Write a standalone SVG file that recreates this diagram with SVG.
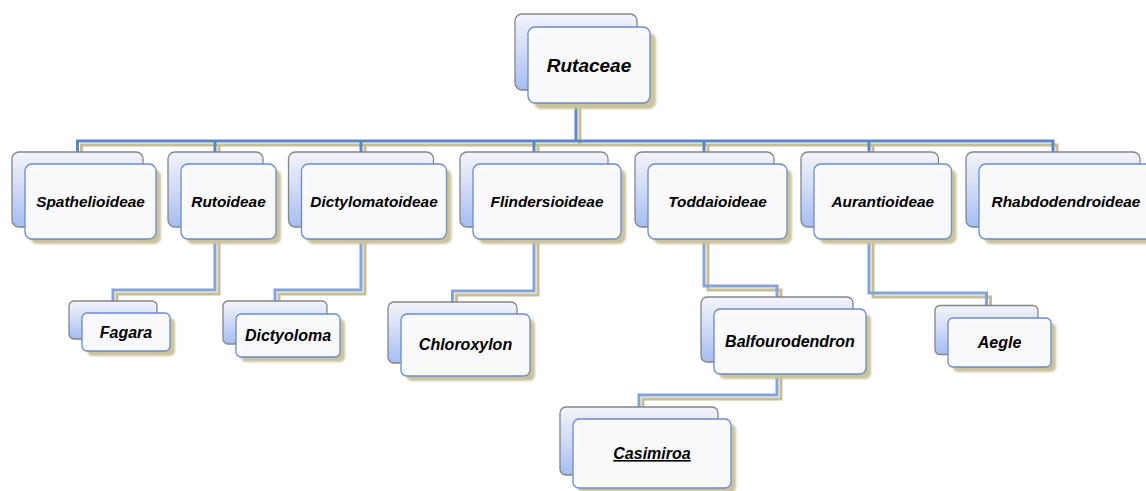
<svg xmlns="http://www.w3.org/2000/svg" xmlns:xlink="http://www.w3.org/1999/xlink" width="1146" height="491" viewBox="0 0 1146 491">
<defs>
<linearGradient id="backGrad" x1="0" y1="0" x2="0" y2="1">
<stop offset="0" stop-color="#f3f4fa"/>
<stop offset="0.45" stop-color="#d3ddf6"/>
<stop offset="1" stop-color="#a5bdf1"/>
</linearGradient>
<filter id="soft" x="-10%" y="-10%" width="120%" height="120%">
<feGaussianBlur stdDeviation="0.8"/>
</filter>
<path id="c0" d="M576,90 V141 M77.5,152 V141 H1053 V152 M215,141 V152 M361,141 V152 M534,141 V152 M704,141 V152 M869,141 V152"/>
<path id="c1" d="M215,227 V290 H113 V301"/>
<path id="c2" d="M361,227 V290 H275 V301"/>
<path id="c3" d="M534,227 V291 H452.5 V302"/>
<path id="c4" d="M704,227 V286 H777 V297"/>
<path id="c5" d="M777,362 V395 H639 V407"/>
<path id="c6" d="M869,227 V293 H986.5 V305"/>
</defs>
<style>
.back{fill:url(#backGrad);stroke:#858585;stroke-width:1.3}
.shadow{fill:#cbc39d;filter:url(#soft)}
.front{fill:#fafbfe;fill-opacity:0.97;stroke:#6a8ccb;stroke-width:1.3}
.t{font-family:"Liberation Sans",Arial,sans-serif;font-weight:bold;font-style:italic;fill:#000;text-anchor:middle}
.t1{font-size:15.4px}
.t2{font-size:16px}
.t0{font-size:19px}
.line{fill:none;stroke-width:3;stroke-linejoin:miter}
.lshadow{stroke:#c6be95}
.lblue{stroke:#5c87c7}
.lblue2{stroke:#86a3d8}
</style>
<rect width="1146" height="491" fill="#ffffff"/>
<g id="connectors">
<g transform="translate(4,4)" class="line lshadow">
<use xlink:href="#c0" href="#c0"/>
<use xlink:href="#c1" href="#c1"/>
<use xlink:href="#c2" href="#c2"/>
<use xlink:href="#c3" href="#c3"/>
<use xlink:href="#c4" href="#c4"/>
<use xlink:href="#c5" href="#c5"/>
<use xlink:href="#c6" href="#c6"/>
</g>
<g class="line">
<use xlink:href="#c0" href="#c0" class="lblue"/>
<use xlink:href="#c1" href="#c1" class="lblue2"/>
<use xlink:href="#c2" href="#c2" class="lblue2"/>
<use xlink:href="#c3" href="#c3" class="lblue2"/>
<use xlink:href="#c4" href="#c4" class="lblue2"/>
<use xlink:href="#c5" href="#c5" class="lblue2"/>
<use xlink:href="#c6" href="#c6" class="lblue2"/>
</g>
</g>
<g id="rutaceae">
<rect class="back" x="515" y="14" width="122" height="76" rx="7"/>
<rect class="shadow" x="534" y="33" width="122" height="76" rx="7"/>
<rect class="front" x="528" y="27" width="122" height="76" rx="7"/>
<text class="t t0" x="589" y="72">Rutaceae</text>
</g>
<g id="spathelioideae">
<rect class="back" x="12" y="152" width="131" height="75" rx="7"/>
<rect class="shadow" x="30" y="169" width="131" height="75" rx="7"/>
<rect class="front" x="25" y="164" width="131" height="75" rx="7"/>
<text class="t t1" x="90.5" y="207">Spathelioideae</text>
</g>
<g id="rutoideae">
<rect class="back" x="168" y="152" width="95" height="75" rx="7"/>
<rect class="shadow" x="186" y="169" width="95" height="75" rx="7"/>
<rect class="front" x="181" y="164" width="95" height="75" rx="7"/>
<text class="t t1" x="228.5" y="207">Rutoideae</text>
</g>
<g id="dictylomatoideae">
<rect class="back" x="288.5" y="152" width="145" height="75" rx="7"/>
<rect class="shadow" x="306.5" y="169" width="145" height="75" rx="7"/>
<rect class="front" x="301.5" y="164" width="145" height="75" rx="7"/>
<text class="t t1" x="374" y="207">Dictylomatoideae</text>
</g>
<g id="flindersioideae">
<rect class="back" x="460" y="152" width="148" height="75" rx="7"/>
<rect class="shadow" x="478" y="169" width="148" height="75" rx="7"/>
<rect class="front" x="473" y="164" width="148" height="75" rx="7"/>
<text class="t t1" x="547" y="207">Flindersioideae</text>
</g>
<g id="toddaioideae">
<rect class="back" x="635" y="152" width="139" height="75" rx="7"/>
<rect class="shadow" x="653" y="169" width="139" height="75" rx="7"/>
<rect class="front" x="648" y="164" width="139" height="75" rx="7"/>
<text class="t t1" x="717.5" y="207">Toddaioideae</text>
</g>
<g id="aurantioideae">
<rect class="back" x="801" y="152" width="137.5" height="75" rx="7"/>
<rect class="shadow" x="819" y="169" width="137.5" height="75" rx="7"/>
<rect class="front" x="814" y="164" width="137.5" height="75" rx="7"/>
<text class="t t1" x="882.75" y="207">Aurantioideae</text>
</g>
<g id="rhabdodendroideae">
<rect class="back" x="966" y="152" width="174" height="75" rx="7"/>
<rect class="shadow" x="984" y="169" width="174" height="75" rx="7"/>
<rect class="front" x="979" y="164" width="174" height="75" rx="7"/>
<text class="t t1" x="1066" y="207">Rhabdodendroideae</text>
</g>
<g id="fagara">
<rect class="back" x="69" y="301" width="88" height="38" rx="5"/>
<rect class="shadow" x="87" y="318" width="88" height="38" rx="5"/>
<rect class="front" x="82" y="313" width="88" height="38" rx="5"/>
<text class="t t2" x="126" y="338">Fagara</text>
</g>
<g id="dictyoloma">
<rect class="back" x="223" y="301" width="104" height="43" rx="5"/>
<rect class="shadow" x="241" y="319" width="104" height="43" rx="5"/>
<rect class="front" x="236" y="314" width="104" height="43" rx="5"/>
<text class="t t2" x="288" y="341">Dictyoloma</text>
</g>
<g id="chloroxylon">
<rect class="back" x="388" y="302" width="129" height="61" rx="6"/>
<rect class="shadow" x="406" y="319" width="129" height="62" rx="6"/>
<rect class="front" x="401" y="314" width="129" height="62" rx="6"/>
<text class="t t2" x="465.5" y="350">Chloroxylon</text>
</g>
<g id="balfourodendron">
<rect class="back" x="701" y="297" width="152" height="65" rx="6"/>
<rect class="shadow" x="719" y="314" width="152" height="65" rx="6"/>
<rect class="front" x="714" y="309" width="152" height="65" rx="6"/>
<text class="t t2" x="790" y="347">Balfourodendron</text>
</g>
<g id="casimiroa">
<rect class="back" x="560" y="407" width="158" height="68" rx="6"/>
<rect class="shadow" x="578" y="424" width="158" height="69" rx="6"/>
<rect class="front" x="573" y="419" width="158" height="69" rx="6"/>
<text class="t t2" x="652" y="459" text-decoration="underline">Casimiroa</text>
</g>
<g id="aegle">
<rect class="back" x="935" y="305.5" width="103" height="49" rx="5"/>
<rect class="shadow" x="953" y="323" width="103" height="49" rx="5"/>
<rect class="front" x="948" y="318" width="103" height="49" rx="5"/>
<text class="t t2" x="999.5" y="348">Aegle</text>
</g>
</svg>
